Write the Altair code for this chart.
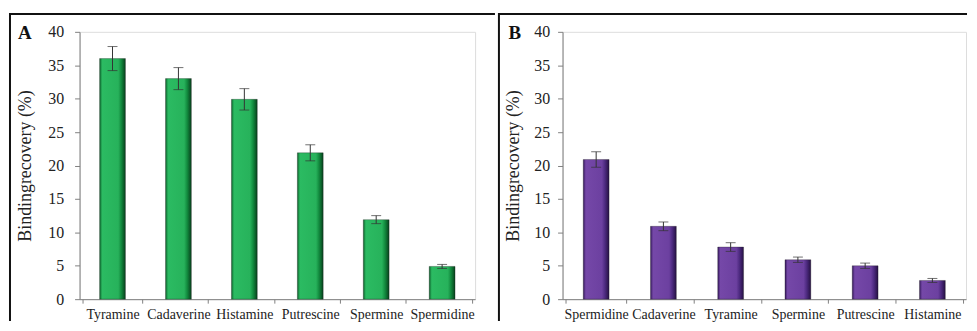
import altair as alt
import pandas as pd

cats_a = ["Tyramine", "Cadaverine", "Histamine", "Putrescine", "Spermine", "Spermidine"]
vals_a = [36.0, 33.0, 29.9, 21.9, 11.9, 4.9]
errs_a = [1.8, 1.65, 1.6, 1.2, 0.6, 0.3]

cats_b = ["Spermidine", "Cadaverine", "Tyramine", "Spermine", "Putrescine", "Histamine"]
vals_b = [20.9, 10.9, 7.8, 5.9, 5.0, 2.8]
errs_b = [1.15, 0.65, 0.65, 0.4, 0.4, 0.3]

y_ticks = [0, 5, 10, 15, 20, 25, 30, 35, 40]
y_title = "Bindingrecovery (%)"
FONT = "Liberation Serif"

green = alt.Gradient(gradient="linear", x1=0, x2=1, y1=0, y2=0, stops=[
    alt.GradientStop(color="#0c5f2a", offset=0),
    alt.GradientStop(color="#2bbb62", offset=0.1),
    alt.GradientStop(color="#27b25b", offset=0.72),
    alt.GradientStop(color="#128a3e", offset=0.84),
    alt.GradientStop(color="#083f1c", offset=1)])
purple = alt.Gradient(gradient="linear", x1=0, x2=1, y1=0, y2=0, stops=[
    alt.GradientStop(color="#34185a", offset=0),
    alt.GradientStop(color="#7548a8", offset=0.1),
    alt.GradientStop(color="#6c40a0", offset=0.72),
    alt.GradientStop(color="#4d2a80", offset=0.84),
    alt.GradientStop(color="#251042", offset=1)])


def panel(cats, vals, errs, fill, letter, w, h, lab_pad, title_pad, letter_x, frame_left, frame_right):
    df = pd.DataFrame({"cat": cats, "val": vals,
                       "lo": [v - e for v, e in zip(vals, errs)],
                       "hi": [v + e for v, e in zip(vals, errs)]})
    x_axis = alt.Axis(labelAngle=0, labelFont=FONT, labelFontSize=14, labelColor="#222",
                      labelPadding=4, tickBand="extent", tickSize=4, tickColor="#808080",
                      domainColor="#808080", labelLimit=200, labelOverlap=False)
    y_axis = alt.Axis(values=y_ticks, grid=False, title=y_title, titleFont=FONT,
                      titleFontSize=18, titleFontWeight="normal", titleColor="#222",
                      titlePadding=title_pad, labelFont=FONT, labelFontSize=16,
                      labelColor="#222", labelPadding=lab_pad, tickSize=5,
                      tickColor="#808080", domainColor="#808080", labelOverlap=False)
    sc = alt.Scale(domain=[0, 40], nice=False)
    x = alt.X("cat:N", sort=cats, title=None, axis=x_axis)

    def Y(field):
        return alt.Y(field, type="quantitative", scale=sc, axis=y_axis, title=y_title)

    base = alt.Chart(df)
    bars = base.mark_bar(size=26, color=fill, stroke="#1a1a1a", strokeWidth=0.6,
                         strokeOpacity=0.5).encode(x=x, y=Y("val"))
    rule = base.mark_rule(color="#333", strokeWidth=1).encode(x=x, y=Y("lo"), y2="hi:Q")
    cap_lo = base.mark_tick(color="#333", size=10, thickness=1).encode(x=x, y=Y("lo"))
    cap_hi = base.mark_tick(color="#333", size=10, thickness=1).encode(x=x, y=Y("hi"))
    one = alt.Chart(pd.DataFrame({"k": [0]}))
    txt = one.mark_text(text=letter, font=FONT, fontSize=19, fontWeight="bold", color="#111",
                        align="center", baseline="middle").encode(x=alt.value(letter_x), y=alt.value(1))
    top = one.mark_rule(color="#111", strokeWidth=2).encode(
        x=alt.value(frame_left), x2=alt.value(frame_right), y=alt.value(-18))
    left = one.mark_rule(color="#111", strokeWidth=2).encode(
        x=alt.value(frame_left), y=alt.value(-19), y2=alt.value(h + 22))
    return alt.layer(top, left, bars, rule, cap_lo, cap_hi, txt).properties(width=w, height=h)


pa = panel(cats_a, vals_a, errs_a, green, "A", 398, 269, 11, 13, -55, -70, 418)
pb = panel(cats_b, vals_b, errs_b, purple, "B", 406, 269, 8, 11, -48, -64, 407)

chart = alt.hconcat(pa, pb, spacing=0).properties(
    padding={"left": 0, "top": 2, "right": 0, "bottom": 0}
).configure_view(stroke=None).configure(background="white")

chart.save("out.html", embed_options={"renderer": "svg", "actions": False})
